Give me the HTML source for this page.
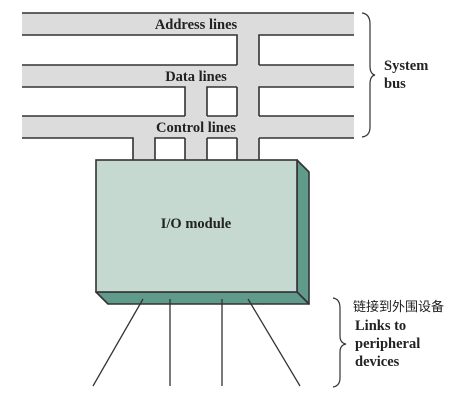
<!DOCTYPE html>
<html><head><meta charset="utf-8"><style>
html,body{margin:0;padding:0;background:#fff;}
svg{display:block;}
.t{font-family:"Liberation Serif","Noto Serif CJK SC",serif;font-weight:bold;font-size:14.5px;fill:#222;}
.c{font-family:"Liberation Sans","Noto Sans CJK SC",sans-serif;font-size:13px;fill:#222;}
</style></head><body>
<svg width="462" height="408" viewBox="0 0 462 408" xmlns="http://www.w3.org/2000/svg">
<g fill="#dcdcdc">
<rect x="22" y="13" width="332" height="22"/>
<rect x="22" y="65" width="332" height="22"/>
<rect x="22" y="116" width="332" height="22"/>
<rect x="237" y="35" width="22" height="125"/>
<rect x="185" y="87" width="22" height="73"/>
<rect x="133" y="138" width="22" height="22"/>
</g>
<g stroke="#333" stroke-width="1.6" fill="none">
<line x1="22" y1="13" x2="354" y2="13"/>
<polyline points="22,35 237,35 237,65"/>
<polyline points="354,35 259,35 259,65"/>
<line x1="22" y1="65" x2="237" y2="65"/>
<line x1="259" y1="65" x2="354" y2="65"/>
<polyline points="22,87 185,87 185,116"/>
<polyline points="237,87 207,87 207,116"/>
<polyline points="354,87 259,87 259,116"/>
<line x1="237" y1="87" x2="237" y2="116"/>
<line x1="22" y1="116" x2="185" y2="116"/>
<line x1="207" y1="116" x2="237" y2="116"/>
<line x1="259" y1="116" x2="354" y2="116"/>
<polyline points="22,138 133,138 133,160"/>
<polyline points="185,138 155,138 155,160"/>
<line x1="185" y1="138" x2="185" y2="160"/>
<line x1="207" y1="138" x2="207" y2="160"/>
<line x1="237" y1="138" x2="237" y2="160"/>
<line x1="259" y1="138" x2="259" y2="160"/>
<line x1="207" y1="138" x2="237" y2="138"/>
<line x1="259" y1="138" x2="354" y2="138"/>
</g>
<polygon points="297,160 309,172 309,304 297,292" fill="#5f9a8a" stroke="#333" stroke-width="1.6" stroke-linejoin="round"/>
<polygon points="96,292 297,292 309,304 108,304" fill="#5f9a8a" stroke="#333" stroke-width="1.6" stroke-linejoin="round"/>
<rect x="96" y="160" width="201" height="132" fill="#c5d9d0" stroke="#333" stroke-width="1.6"/>
<text class="t" x="196" y="228" text-anchor="middle">I/O module</text>
<g stroke="#333" stroke-width="1.3">
<line x1="143" y1="299" x2="93" y2="386"/>
<line x1="170" y1="299" x2="170" y2="386"/>
<line x1="222" y1="299" x2="222" y2="386"/>
<line x1="248" y1="299" x2="300" y2="386"/>
</g>
<text class="t" x="196" y="29" text-anchor="middle">Address lines</text>
<text class="t" x="196" y="81" text-anchor="middle">Data lines</text>
<text class="t" x="196" y="132" text-anchor="middle">Control lines</text>
<g stroke="#333" stroke-width="1.2" fill="none">
<path d="M362,13 Q370,14 370,24 L370,66 Q370,74 375,75 Q370,76 370,84 L370,127 Q370,136 362,137"/>
<path d="M333,298 Q340,299 340,308 L340,336 Q340,343 346,344 Q340,345 340,352 L340,378 Q340,386 333,387"/>
</g>
<text class="t" x="384" y="70">System</text>
<text class="t" x="384" y="88">bus</text>
<text class="c" x="353" y="311">链接到外围设备</text>
<text class="t" x="355" y="330">Links to</text>
<text class="t" x="355" y="348">peripheral</text>
<text class="t" x="355" y="366">devices</text>
</svg>
</body></html>
